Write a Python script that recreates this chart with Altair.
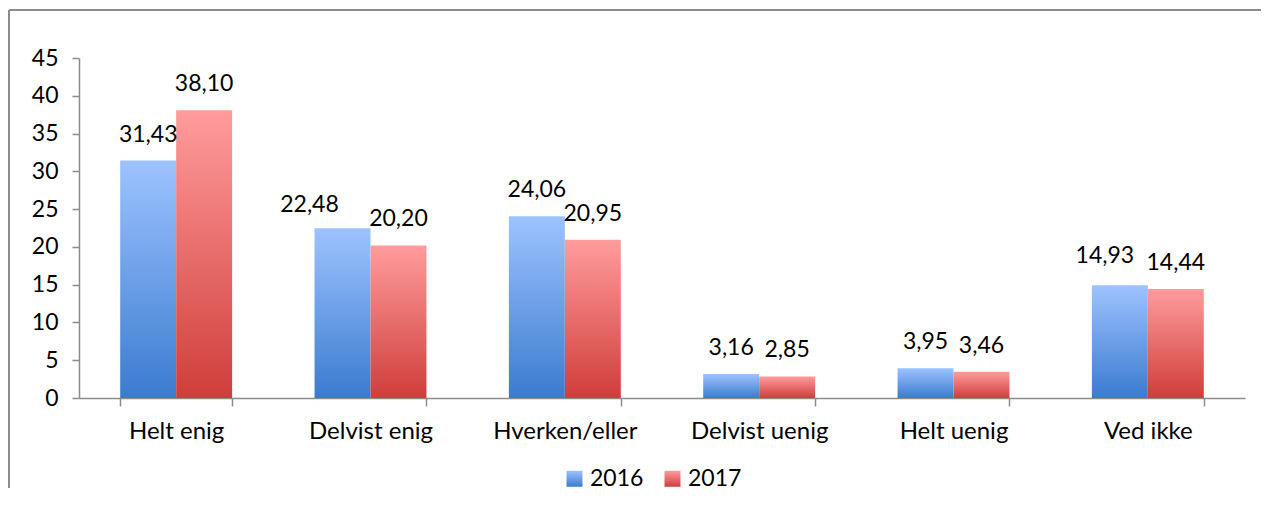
import altair as alt
import pandas as pd

categories = ["Helt enig", "Delvist enig", "Hverken/eller", "Delvist uenig", "Helt uenig", "Ved ikke"]
years = ["2016", "2017"]
values_2016 = [31.43, 22.48, 24.06, 3.16, 3.95, 14.93]
values_2017 = [38.10, 20.20, 20.95, 2.85, 3.46, 14.44]
y_ticks = [0, 5, 10, 15, 20, 25, 30, 35, 40, 45]

rows = []
for c, a, b in zip(categories, values_2016, values_2017):
    rows.append({"cat": c, "year": "2016", "value": a})
    rows.append({"cat": c, "year": "2017", "value": b})
df = pd.DataFrame(rows)

W, H = 1166, 340
PAD = {"left": 71, "top": 50, "right": 18, "bottom": 92}
FONT = "Lato"
GRAY = "#8c8c8c"

blue = ("{gradient: 'linear', x1: 0, y1: 0, x2: 0, y2: 1, stops: ["
        "{offset: 0, color: '#9dc3ff'}, {offset: 1, color: '#3b7bcf'}]}")
red = ("{gradient: 'linear', x1: 0, y1: 0, x2: 0, y2: 1, stops: ["
       "{offset: 0, color: '#ff9c9c'}, {offset: 1, color: '#cf3e3a'}]}")

x_enc = alt.X("cat:N", sort=categories,
              scale=alt.Scale(paddingInner=0.424, paddingOuter=0.212),
              axis=alt.Axis(title=None, labelAngle=0, tickBand="extent", tickSize=8,
                            labelPadding=13, labelFontSize=24, labelFont=FONT,
                            labelColor="black", domainColor=GRAY, tickColor=GRAY,
                            domainWidth=1.5, tickWidth=1.5))
y_enc = alt.Y("value:Q", scale=alt.Scale(domain=[0, 45], nice=False),
              axis=alt.Axis(title=None, values=y_ticks, grid=False, tickSize=7,
                            labelPadding=14, labelFontSize=23, labelFont=FONT,
                            labelColor="black", domainColor=GRAY, tickColor=GRAY,
                            domainWidth=1.5, tickWidth=1.5))
xoff = alt.XOffset("year:N", sort=years, scale=alt.Scale(paddingInner=0, paddingOuter=0))

base = alt.Chart(df).transform_calculate(
    label="replace(format(datum.value, '.2f'), '.', ',')"
)

bars = base.mark_bar().encode(
    x=x_enc, y=y_enc, xOffset=xoff,
    color=alt.Color("year:N", sort=years,
                    scale=alt.Scale(domain=years,
                                    range=[alt.ExprRef(expr=blue), alt.ExprRef(expr=red)]),
                    legend=alt.Legend(title=None, orient="none", direction="horizontal",
                                      legendX=484, legendY=409, symbolType="square",
                                      symbolSize=256, symbolStrokeWidth=0,
                                      labelFontSize=23, labelFont=FONT, labelColor="black",
                                      columnPadding=17, labelOffset=4))
)

def labels(flt, dx, dy):
    return base.transform_filter(flt).mark_text(
        baseline="alphabetic", dx=dx, dy=dy, fontSize=23, font=FONT, color="black"
    ).encode(x=x_enc, y=y_enc, xOffset=xoff, text="label:N")

special1 = "datum.cat == 'Delvist enig' && datum.year == '2016'"
special2 = "datum.cat == 'Ved ikke' && datum.year == '2016'"
text_main = labels(f"!({special1}) && !({special2})", 0, -19)
text_s1 = labels(special1, -33, -16)
text_s2 = labels(special2, -15, -22)

frame = alt.Data(values=[{"a": 1}])
border_top = alt.Chart(frame).mark_rule(stroke=GRAY, strokeWidth=2).encode(
    x=alt.value(-70), x2=alt.value(W + PAD["right"] - 2), y=alt.value(-48))
border_left = alt.Chart(frame).mark_rule(stroke=GRAY, strokeWidth=2).encode(
    x=alt.value(-70), y=alt.value(-48), y2=alt.value(H + PAD["bottom"] - 2))

chart = alt.layer(border_top, border_left, bars, text_main, text_s1, text_s2).properties(
    width=W, height=H,
    autosize=alt.AutoSizeParams(type="none"),
    padding=PAD,
).configure_view(strokeWidth=0)

chart.save("out.html", embed_options={"renderer": "svg", "actions": False})
